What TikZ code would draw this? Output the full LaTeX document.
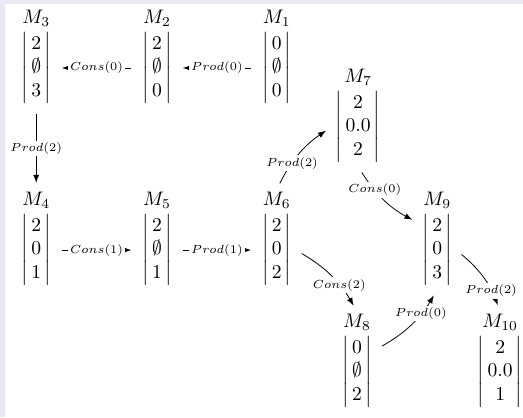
\documentclass[tikz,border=0pt]{standalone}
\usepackage{amsmath}
\usetikzlibrary{arrows}
\definecolor{framebg}{RGB}{233,233,243}

\begin{document}
\begin{tikzpicture}[
    mat/.style={inner sep=2pt},
    mname/.style={inner sep=1pt},
    arr/.style={-latex, shorten <=3.5pt, shorten >=3.5pt},
    lbl/.style={fill=white, inner sep=1pt, font=\fontsize{6.5}{7.5}\selectfont},
]
% background
\useasboundingbox (0,0) rectangle (9.39,-7.49);
\fill[framebg] (0,0) rectangle (9.39,-7.49);
\fill[white] (0.09,-0.07) rectangle (9.39,-7.49);

% states
\foreach \n/\x/\y/\a/\b/\c in {
  3/0.65/-1.22/2/\emptyset/3,
  2/2.82/-1.22/2/\emptyset/0,
  1/4.97/-1.22/0/\emptyset/0,
  7/6.43/-2.28/2/0.0/2,
  4/0.65/-4.49/2/0/1,
  5/2.82/-4.49/2/\emptyset/1,
  6/4.97/-4.49/2/0/2,
  9/7.85/-4.49/2/0/3,
  8/6.41/-6.68/0/\emptyset/2,
  10/8.98/-6.68/2/0.0/1
}{
  \node[mat, label={[mname, name=n\n]above:$M_{\n}$}] (m\n) at (\x,\y)
    {$\left|\begin{array}{@{\,}c@{\,}}\a\\\b\\\c\end{array}\right|$};
}

% transitions
\draw[arr] (m2) -- node[lbl]{$Cons(0)$} (m3);
\draw[arr] (m1) -- node[lbl]{$Prod(0)$} (m2);
\draw[arr] (m3) -- node[lbl]{$Prod(2)$} (n4);
\draw[arr] (m4) -- node[lbl]{$Cons(1)$} (m5);
\draw[arr] (m5) -- node[lbl]{$Prod(1)$} (m6);
\draw[arr] (n6.north) to[bend left=15] node[lbl, pos=0.35]{$Prod(2)$} (m7.west);
\draw[arr] (m7.south) to[bend right=15] node[lbl, pos=0.33]{$Cons(0)$} (m9.125);
\draw[arr] (m6.east) to[bend left=15] node[lbl, pos=0.65]{$Cons(2)$} (n8.north);
\draw[arr] (m8.50) to[bend right=15] node[lbl, pos=0.68]{$Prod(0)$} (m9.south);
\draw[arr] (m9.east) to[bend left=15] node[lbl, pos=0.72]{$Prod(2)$} (n10.north);
\end{tikzpicture}
\end{document}
